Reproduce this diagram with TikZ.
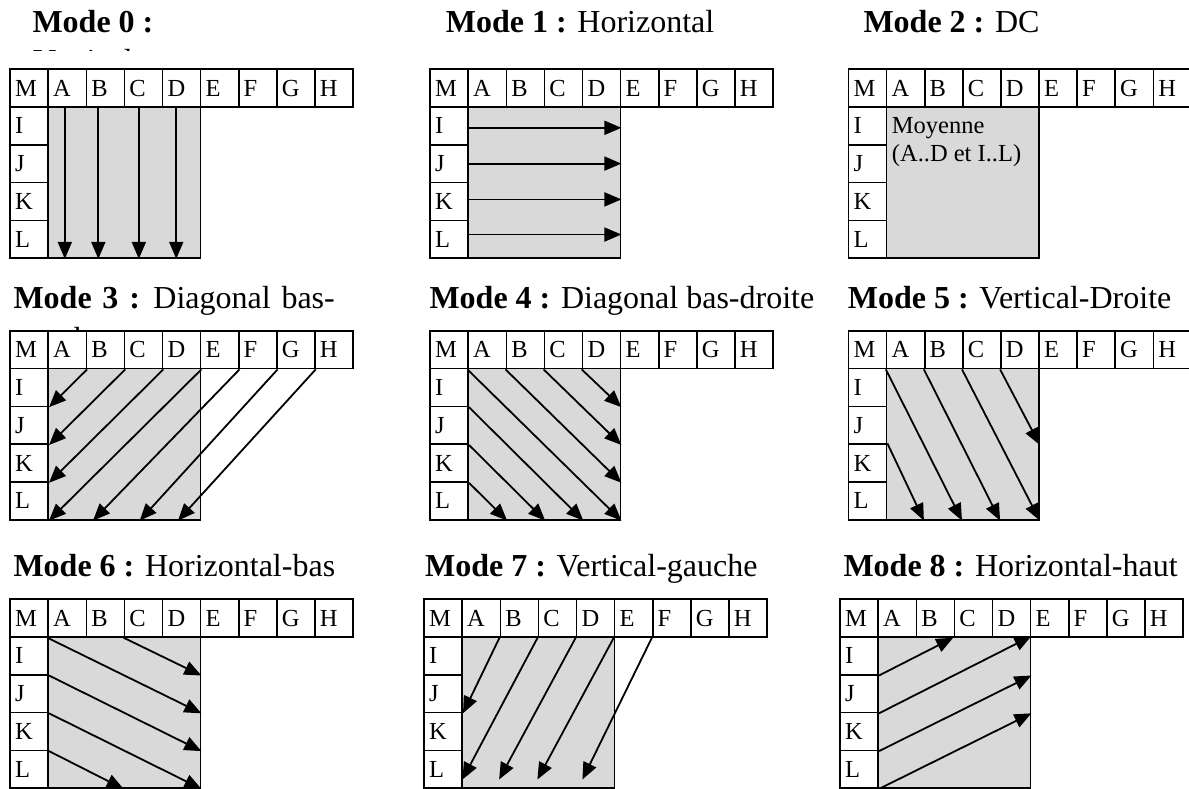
\documentclass[tikz,border=0pt]{standalone}
\usepackage{fontspec}
\setmainfont{Liberation Serif}
\usetikzlibrary{arrows.meta,calc}
\tikzset{
  cell/.style={draw, fill=white, line width=1.6pt, minimum width=38.1pt, minimum height=37.8pt,
    inner sep=0pt, inner xsep=5pt, text width=28.1pt, align=left, text height=16pt, text depth=0pt,
    font=\fontsize{24.5}{28}\selectfont, anchor=north west},
  grayblk/.style={draw, fill=gray!30, line width=1.6pt, minimum width=152.4pt, minimum height=151.2pt,
    inner sep=0pt, anchor=north west},
  arr/.style={line width=1.8pt, -{Triangle[length=17pt,width=14pt]}},
  title/.style={anchor=base west, inner sep=0pt, font=\fontsize{32}{36}\selectfont},
  boxtext/.style={anchor=base west, inner sep=0pt, font=\fontsize{24.5}{28}\selectfont},
}
\newcommand{\modegrid}[3]{%
  \node[grayblk] (#1-gray) at (#2+38.1, #3+37.8) {};
  \foreach \l [count=\i from 0] in {M,A,B,C,D,E,F,G,H}
    \node[cell] (#1-\l) at (#2+\i*38.1, #3) {\l};
  \foreach \l [count=\i from 1] in {I,J,K,L}
    \node[cell] (#1-\l) at (#2, #3+\i*37.8) {\l};
}
\begin{document}
\begin{tikzpicture}[x=1pt,y=-1pt]
\useasboundingbox (0,0) rectangle (1189,788);

% ---- titles ----
\node[title] (t0) at (32.3,32.5) {\textbf{Mode 0 :}};
\begin{scope}
  \clip (0,0) rectangle (300,50.5);
  \node[title] (t0b) at (33,71) {Vertical};
\end{scope}
\node[title] (t1) at (445.7,32.5) {\textbf{Mode 1 :} Horizontal};
\node[title] (t2) at (863.3,32.5) {\textbf{Mode 2 :} DC};
\node[title] (t3) at (13.3,308.5) {\spaceskip=10.8pt\relax\textbf{Mode 3 :} Diagonal bas-};
\begin{scope}
  \clip (0,300) rectangle (300,329.5);
  \node[title] (t3b) at (13.3,349) {gauche};
\end{scope}
\node[title] (t4) at (429.3,308.5) {\textbf{Mode 4 :} Diagonal bas-droite};
\node[title] (t5) at (847.7,308.5) {\textbf{Mode 5 :} Vertical-Droite};
\node[title] (t6) at (13.3,576.7) {\textbf{Mode 6 :} Horizontal-bas};
\node[title] (t7) at (425,576.7) {\textbf{Mode 7 :} Vertical-gauche};
\node[title] (t8) at (843.3,576.7) {\textbf{Mode 8 :} Horizontal-haut};

% ---- grids ----
\modegrid{p0}{9.3}{68.3}
\modegrid{p1}{429.3}{68.3}
\modegrid{p2}{847.7}{68.3}
\modegrid{p3}{9.3}{330}
\modegrid{p4}{429.3}{330}
\modegrid{p5}{847.7}{330}
\modegrid{p6}{9.3}{598.3}
\modegrid{p7}{423.3}{598.3}
\modegrid{p8}{839.3}{598.3}

% ---- mode 0 ----
\draw[arr] ([xshift=-2.4pt]p0-A.south) -- ([xshift=-2.4pt]p0-A.south |- p0-gray.south);
\draw[arr] ([xshift=-7pt]p0-B.south) -- ([xshift=-7pt]p0-B.south |- p0-gray.south);
\draw[arr] ([xshift=-4.6pt]p0-C.south) -- ([xshift=-4.6pt]p0-C.south |- p0-gray.south);
\draw[arr] ([xshift=-5.3pt]p0-D.south) -- ([xshift=-5.3pt]p0-D.south |- p0-gray.south);

% ---- mode 1 ----
\draw[arr] ([yshift=-2pt]p1-I.east) -- ([yshift=-2pt]p1-I.east -| p1-gray.east);
\draw[arr] (p1-J.east) -- (p1-J.east -| p1-gray.east);
\draw[arr] ([yshift=2pt]p1-K.east) -- ([yshift=2pt]p1-K.east -| p1-gray.east);
\draw[arr] ([yshift=4.7pt]p1-L.east) -- ([yshift=4.7pt]p1-L.east -| p1-gray.east);

% ---- mode 2 ----
\node[boxtext] (p2-t1) at (891.7,133) {Moyenne};
\node[boxtext] (p2-t2) at (891.7,161) {(A..D et I..L)};

% ---- mode 3 ----
\draw[arr] (p3-A.south east) -- (p3-I.south east);
\draw[arr] (p3-B.south east) -- (p3-J.south east);
\draw[arr] (p3-C.south east) -- (p3-K.south east);
\draw[arr] (p3-D.south east) -- (p3-L.south east);
\draw[arr] (p3-E.south east) -- ($(p3-gray.south west)+(45.6pt,0pt)$);
\draw[arr] (p3-F.south east) -- ($(p3-gray.south west)+(92.3pt,0pt)$);
\draw[arr] (p3-G.south east) -- ($(p3-gray.south west)+(130.6pt,0pt)$);

% ---- mode 4 ----
\draw[arr] (p4-D.south west) -- (p4-gray.east |- p4-I.south);
\draw[arr] (p4-C.south west) -- (p4-gray.east |- p4-J.south);
\draw[arr] (p4-B.south west) -- (p4-gray.east |- p4-K.south);
\draw[arr] (p4-A.south west) -- (p4-gray.south east);
\draw[arr] (p4-I.south east) -- (p4-C.south east |- p4-gray.south);
\draw[arr] (p4-J.south east) -- (p4-B.south east |- p4-gray.south);
\draw[arr] (p4-K.south east) -- (p4-A.south east |- p4-gray.south);

% ---- mode 5 ----
\draw[arr] (p5-D.south west) -- (p5-gray.east |- p5-J.south);
\draw[arr] (p5-C.south west) -- (p5-gray.south east);
\draw[arr] (p5-B.south west) -- (p5-D.south west |- p5-gray.south);
\draw[arr] (p5-A.south west) -- (p5-C.south west |- p5-gray.south);
\draw[arr] (p5-K.north east) -- (p5-B.south west |- p5-gray.south);

% ---- mode 6 ----
\draw[arr] (p6-C.south west) -- (p6-gray.east |- p6-I.south);
\draw[arr] (p6-A.south west) -- (p6-gray.east |- p6-J.south);
\draw[arr] (p6-I.south east) -- (p6-gray.east |- p6-K.south);
\draw[arr] (p6-J.south east) -- (p6-gray.south east);
\draw[arr] (p6-K.south east) -- (p6-C.south west |- p6-gray.south);

% ---- mode 7 ----
\draw[arr] (p7-B.south west) -- (p7-J.south east);
\draw[arr] (p7-C.south west) -- ($(p7-gray.south west)+(1pt,9.4pt)$);
\draw[arr] (p7-D.south west) -- ($(p7-gray.south west)+(37.7pt,9.4pt)$);
\draw[arr] (p7-E.south west) -- ($(p7-gray.south west)+(76pt,9.4pt)$);
\draw[arr] (p7-F.south west) -- ($(p7-gray.south west)+(121pt,9.4pt)$);

% ---- mode 8 ----
\draw[arr] (p8-I.south east) -- ([xshift=-2pt]p8-B.south east);
\draw[arr] (p8-J.south east) -- (p8-gray.north east);
\draw[arr] (p8-K.south east) -- (p8-gray.east |- p8-I.south);
\draw[arr] (p8-L.south east) -- (p8-gray.east |- p8-J.south);
\end{tikzpicture}
\end{document}
